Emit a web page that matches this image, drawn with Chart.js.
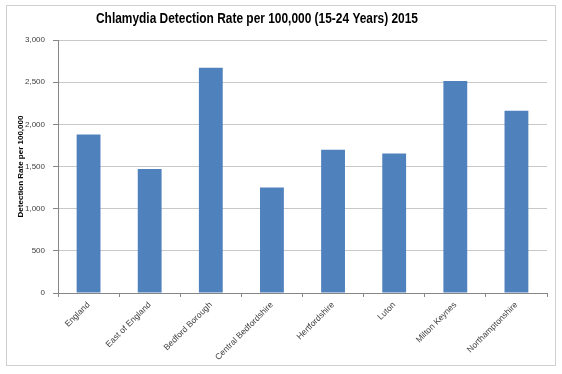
<!DOCTYPE html>
<html>
<head>
<meta charset="utf-8">
<script src="https://cdn.jsdelivr.net/npm/chart.js@4"></script>
<style>
  html, body { margin: 0; padding: 0; background: #ffffff; }
  #wrap { position: relative; width: 562px; height: 374px; }
</style>
</head>
<body>
<div id="wrap"><canvas id="c" width="562" height="374"></canvas></div>
<script>
const chartTitle = 'Chlamydia Detection Rate per 100,000 (15-24 Years) 2015';
const yAxisTitle = 'Detection Rate per 100,000';
const categories = ['England', 'East of England', 'Bedford Borough', 'Central Bedfordshire', 'Hertfordshire', 'Luton', 'Milton Keynes', 'Northamptonshire'];
const detectionRates = [1880, 1470, 2670, 1250, 1700, 1655, 2515, 2160];
const yTicks = [0, 500, 1000, 1500, 2000, 2500, 3000];

const FONT = '"Liberation Sans", Arial, sans-serif';

const frameAndTitle = {
  id: 'frameAndTitle',
  beforeDraw(chart) {
    const ctx = chart.ctx;
    ctx.save();
    ctx.fillStyle = '#ffffff';
    ctx.fillRect(0, 0, chart.width, chart.height);
    ctx.strokeStyle = '#d0d0d0';
    ctx.lineWidth = 1;
    ctx.strokeRect(6.5, 5.5, 549, 360);
    ctx.restore();
  },
  afterDraw(chart) {
    const ctx = chart.ctx;
    ctx.save();
    ctx.fillStyle = '#000000';
    ctx.font = 'bold 14px ' + FONT;
    ctx.textAlign = 'center';
    ctx.textBaseline = 'middle';
    const w = ctx.measureText(chartTitle).width;
    const sx = 322 / w;
    ctx.translate(257, 19);
    ctx.scale(sx, 1);
    ctx.fillText(chartTitle, 0, 0);
    ctx.restore();
  }
};

new Chart(document.getElementById('c'), {
  type: 'bar',
  data: {
    labels: categories,
    datasets: [{
      data: detectionRates,
      backgroundColor: '#4F81BD',
      borderWidth: 0,
      categoryPercentage: 1.0,
      barPercentage: 0.39
    }]
  },
  options: {
    responsive: false,
    animation: false,
    devicePixelRatio: 1,
    layout: { padding: { left: 0, right: 15, top: 40, bottom: 0 } },
    plugins: {
      legend: { display: false },
      title: { display: false },
      tooltip: { enabled: false }
    },
    scales: {
      x: {
        offset: true,
        grid: {
          offset: true,
          drawOnChartArea: false,
          drawTicks: true,
          tickLength: 4,
          color: '#868686'
        },
        border: { display: true, color: '#868686' },
        ticks: {
          autoSkip: false,
          minRotation: 45,
          maxRotation: 45,
          padding: 3,
          color: '#404040',
          font: { family: FONT, size: 8.5 }
        },
        afterFit(scale) { scale.height = 81; }
      },
      y: {
        min: 0,
        max: 3000,
        afterBuildTicks(scale) { scale.ticks = yTicks.map(v => ({ value: v })); },
        grid: {
          color: '#c8c8c8',
          tickColor: '#868686',
          tickLength: 5,
          drawTicks: true
        },
        border: { display: true, color: '#868686' },
        ticks: {
          padding: 8,
          color: '#404040',
          font: { family: FONT, size: 8 },
          callback: (v) => Number(v).toLocaleString('en-US')
        },
        title: {
          display: true,
          text: yAxisTitle,
          color: '#000000',
          padding: { top: 16, bottom: 0 },
          font: { family: FONT, size: 8, weight: 'bold' }
        },
        afterFit(scale) { scale.width = 58; }
      }
    }
  },
  plugins: [frameAndTitle]
});
</script>
</body>
</html>
